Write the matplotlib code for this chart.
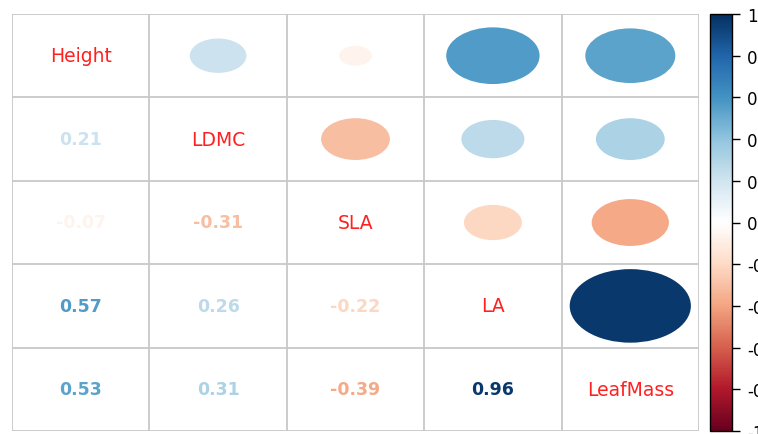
import numpy as np
import matplotlib.pyplot as plt
from matplotlib.colors import LinearSegmentedColormap, Normalize
from matplotlib.cm import ScalarMappable
from matplotlib.patches import Ellipse

plt.rcParams['axes.unicode_minus'] = False
plt.rcParams['font.family'] = ['DejaVu Sans']

# traits and their correlation matrix
traits = ['Height', 'LDMC', 'SLA', 'LA', 'LeafMass']
corr = np.array([
    [1.00, 0.21, -0.07, 0.57, 0.53],
    [0.21, 1.00, -0.31, 0.26, 0.31],
    [-0.07, -0.31, 1.00, -0.22, -0.39],
    [0.57, 0.26, -0.22, 1.00, 0.96],
    [0.53, 0.31, -0.39, 0.96, 1.00],
])
cbar_ticks = [-1, -0.8, -0.6, -0.4, -0.2, 0, 0.2, 0.4, 0.6, 0.8, 1]

rdbu = ['#67001F', '#B2182B', '#D6604D', '#F4A582', '#FDDBC7', '#FFFFFF',
        '#D1E5F0', '#92C5DE', '#4393C3', '#2166AC', '#053061']
cmap = LinearSegmentedColormap.from_list('corrRdBu', rdbu, N=200)
norm = Normalize(-1, 1)

W, H = 758, 435
fig = plt.figure(figsize=(W / 100, H / 100), dpi=100)
ax = fig.add_axes([12 / W, 3 / H, 687 / W, 417 / H])

n = len(traits)
ax.set_xlim(0, n)
ax.set_ylim(n, 0)
ax.set_xticks([])
ax.set_yticks([])
for s in ax.spines.values():
    s.set_visible(False)

# grid
for k in range(n + 1):
    ax.axvline(k, color='#C8C8C8', lw=1.3, zorder=1)
    ax.axhline(k, color='#C8C8C8', lw=1.3, zorder=1)

for i in range(n):
    for j in range(n):
        r = corr[i, j]
        cx, cy = j + 0.5, i + 0.5
        if i == j:
            ax.text(cx, cy, traits[i], color='#FF2020', fontsize=13.5,
                    ha='center', va='center')
        elif j > i:
            d = 0.9 * np.sqrt(abs(r))
            ax.add_patch(Ellipse((cx, cy), d, d, facecolor=cmap(norm(r)),
                                 edgecolor='none', zorder=2))
        else:
            ax.text(cx, cy, f'{r:.2f}', color=cmap(norm(r)), fontsize=12.5,
                    fontweight='bold', ha='center', va='center')

# colour bar
cax = fig.add_axes([710 / W, 3 / H, 22 / W, 417 / H])
cb = fig.colorbar(ScalarMappable(norm=norm, cmap=cmap), cax=cax, ticks=cbar_ticks)
cb.outline.set_linewidth(1.0)
cb.ax.set_yticklabels([f'{t:g}' for t in cbar_ticks])
cb.ax.tick_params(length=6, width=1, pad=5, labelsize=12)

fig.savefig('out.png', dpi=100)
